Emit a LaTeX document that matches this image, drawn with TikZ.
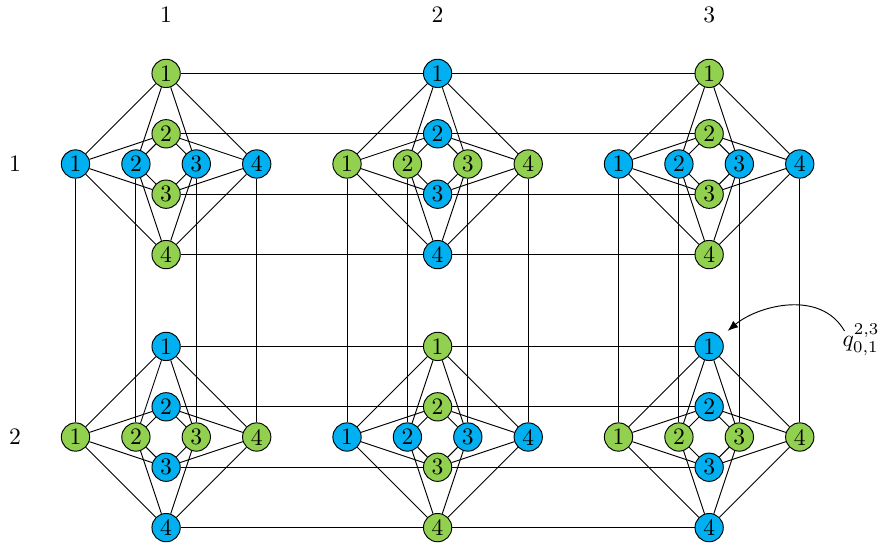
\documentclass[tikz,border=0pt]{standalone}
\usetikzlibrary{arrows.meta}
\definecolor{skyblue}{HTML}{00B0F0}
\definecolor{leafgreen}{HTML}{92D050}
\pgfdeclarelayer{edges}
\pgfsetlayers{edges,main}
\tikzset{
  qubit/.style={circle, draw, line width=0.4pt, inner sep=0pt, minimum size=12pt},
  coupler/.style={line width=0.4pt},
  axislabel/.style={inner sep=0pt}
}
\begin{document}
\begin{tikzpicture}[x=0.45cm, y=0.45cm]
\useasboundingbox (0,0) rectangle (29.27,-18.05);

% unit cells: four vertical and four horizontal qubits each
\foreach \r/\cy in {1/-5.43, 2/-14.47} {
  \foreach \c/\cx in {1/5.5, 2/14.49, 3/23.48} {
    \pgfmathtruncatemacro\pty{mod(\r+\c,2)}
    \ifnum\pty=0 \def\vcol{leafgreen}\def\hcol{skyblue}\else\def\vcol{skyblue}\def\hcol{leafgreen}\fi
    \foreach \i/\off in {1/3, 2/1, 3/-1, 4/-3} {
      \node[qubit, fill=\vcol] (v-\r-\c-\i) at ({\cx}, {\cy+(\off)}) {\i};
      \node[qubit, fill=\hcol] (h-\r-\c-\i) at ({\cx-(\off)}, {\cy}) {\i};
    }
  }
}

\begin{pgfonlayer}{edges}
  % complete bipartite couplings inside each cell
  \foreach \r in {1,2} {
    \foreach \c in {1,2,3} {
      \foreach \i in {1,...,4} {
        \foreach \j in {1,...,4} {
          \draw[coupler] (v-\r-\c-\i) -- (h-\r-\c-\j);
        }
      }
    }
  }
  % couplings between neighbouring cells in a row
  \foreach \r in {1,2} {
    \foreach \c/\cn in {1/2, 2/3} {
      \foreach \i in {1,...,4} {
        \draw[coupler] (v-\r-\c-\i) -- (v-\r-\cn-\i);
      }
    }
  }
  % couplings between neighbouring cells in a column
  \foreach \c in {1,2,3} {
    \foreach \i in {1,...,4} {
      \draw[coupler] (h-1-\c-\i) -- (h-2-\c-\i);
    }
  }
\end{pgfonlayer}

% column and row indices
\node[axislabel] (col1) at (5.5,-0.5) {1};
\node[axislabel] (col2) at (14.49,-0.5) {2};
\node[axislabel] (col3) at (23.48,-0.5) {3};
\node[axislabel] (row1) at (0.5,-5.43) {1};
\node[axislabel] (row2) at (0.5,-14.47) {2};

% qubit annotation
\node[axislabel] (q) at (28.51,-11.26) {$q_{0,1}^{2,3}$};
\draw[-{Latex[length=4.5pt,width=3.5pt]}, shorten >=4pt]
  ([xshift=1pt,yshift=-3pt]q.north west) to[out=120, in=40] (v-2-3-1);
\end{tikzpicture}
\end{document}
